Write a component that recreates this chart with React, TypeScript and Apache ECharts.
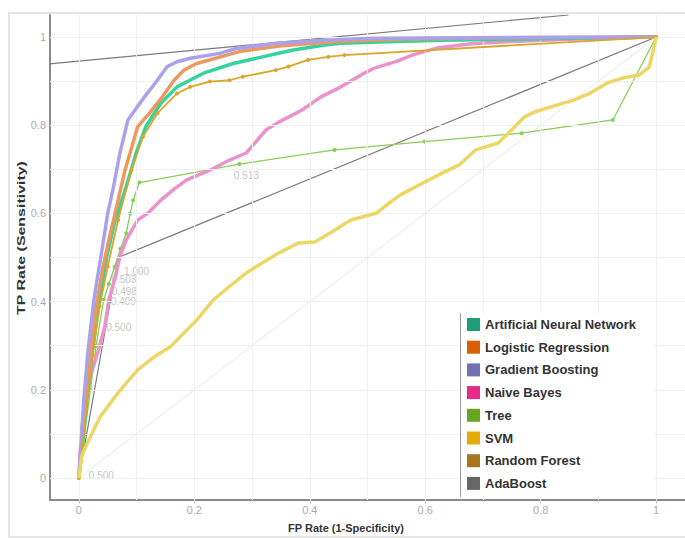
import React, { useEffect, useRef } from 'react';
import * as echarts from 'echarts';

const seriesNames = [
  'Artificial Neural Network',
  'Logistic Regression',
  'Gradient Boosting',
  'Naive Bayes',
  'Tree',
  'SVM',
  'Random Forest',
  'AdaBoost',
];
const legendColors = ['#1b9e77', '#d95f02', '#7570b3', '#e7298a', '#66a61e', '#e6ab02', '#a6761d', '#666666'];
const lineColors = ['#34d39f', '#eb9a5e', '#a9a1ec', '#ea92cc', '#86cf55', '#ecd766', '#d9a52a', '#7a7a7a'];

const tickValues = [0, 0.2, 0.4, 0.6, 0.8, 1];
const gridValues = [0, 0.1, 0.2, 0.3, 0.4, 0.5, 0.6, 0.7, 0.8, 0.9, 1];

const annData = [
  [0, 0], [0.006, 0.07], [0.014, 0.18], [0.024, 0.29], [0.035, 0.4], [0.048, 0.5], [0.062, 0.58],
  [0.072, 0.62], [0.082, 0.661], [0.099, 0.736], [0.116, 0.797], [0.142, 0.85], [0.17, 0.887],
  [0.216, 0.918], [0.267, 0.94], [0.318, 0.955], [0.369, 0.97], [0.426, 0.982], [0.454, 0.986],
  [0.55, 0.99], [0.63, 0.993], [1, 1],
];
const lrData = [
  [0, 0], [0.005, 0.07], [0.012, 0.18], [0.02, 0.28], [0.03, 0.39], [0.042, 0.48], [0.052, 0.54],
  [0.06, 0.585], [0.08, 0.698], [0.102, 0.797], [0.122, 0.827], [0.145, 0.865], [0.165, 0.902],
  [0.182, 0.925], [0.204, 0.94], [0.278, 0.967], [0.35, 0.98], [0.45, 0.99], [0.55, 0.995],
  [0.7, 0.998], [1, 1],
];
const gbData = [
  [0, 0], [0.003, 0.063], [0.0085, 0.177], [0.016, 0.29], [0.026, 0.404], [0.04, 0.517], [0.05, 0.6],
  [0.06, 0.66], [0.071, 0.736], [0.085, 0.812], [0.097, 0.834], [0.114, 0.865], [0.136, 0.902],
  [0.153, 0.933], [0.17, 0.944], [0.193, 0.952], [0.244, 0.963], [0.273, 0.974], [0.341, 0.986],
  [0.426, 0.993], [0.511, 0.997], [0.6, 0.998], [0.75, 0.999], [1, 1],
];
const nbData = [
  [0, 0], [0.002, 0.05], [0.005, 0.11], [0.011, 0.177], [0.022, 0.24], [0.034, 0.29], [0.045, 0.344],
  [0.052, 0.404], [0.064, 0.46], [0.071, 0.502], [0.082, 0.54], [0.102, 0.585], [0.119, 0.6],
  [0.142, 0.63], [0.165, 0.655], [0.187, 0.676], [0.227, 0.698], [0.261, 0.721], [0.29, 0.737],
  [0.324, 0.789], [0.346, 0.807], [0.386, 0.834], [0.42, 0.865], [0.454, 0.887], [0.494, 0.918],
  [0.511, 0.929], [0.55, 0.945], [0.58, 0.96], [0.62, 0.975], [0.68, 0.985], [0.75, 0.99],
  [0.85, 0.995], [1, 1],
];
const treeData = [
  [0, 0], [0.01, 0.1], [0.02, 0.2], [0.03, 0.3], [0.043, 0.404], [0.052, 0.44], [0.062, 0.479],
  [0.072, 0.52], [0.082, 0.555], [0.089, 0.6], [0.094, 0.63], [0.105, 0.67], [0.278, 0.712],
  [0.443, 0.744], [0.599, 0.763], [0.767, 0.782], [0.925, 0.812], [1, 1],
];
const svmData = [
  [0, 0], [0.005, 0.05], [0.017, 0.086], [0.037, 0.139], [0.068, 0.193], [0.082, 0.215],
  [0.102, 0.245], [0.131, 0.275], [0.159, 0.298], [0.204, 0.358], [0.233, 0.404], [0.267, 0.441],
  [0.29, 0.465], [0.307, 0.479], [0.346, 0.51], [0.38, 0.533], [0.409, 0.535], [0.443, 0.562],
  [0.471, 0.585], [0.516, 0.601], [0.533, 0.619], [0.557, 0.642], [0.596, 0.669], [0.63, 0.692],
  [0.659, 0.71], [0.687, 0.744], [0.727, 0.76], [0.75, 0.79], [0.772, 0.819], [0.789, 0.83],
  [0.829, 0.846], [0.857, 0.857], [0.886, 0.873], [0.915, 0.896], [0.942, 0.907], [0.971, 0.914],
  [0.988, 0.932], [0.994, 0.964], [1, 1],
];
const rfData = [
  [0, 0], [0.006, 0.07], [0.014, 0.17], [0.024, 0.28], [0.036, 0.39], [0.05, 0.48], [0.068, 0.585],
  [0.091, 0.698], [0.111, 0.774], [0.136, 0.827], [0.17, 0.872], [0.193, 0.887], [0.227, 0.899],
  [0.261, 0.902], [0.284, 0.91], [0.341, 0.925], [0.363, 0.933], [0.397, 0.948], [0.432, 0.955],
  [0.46, 0.959], [1, 1],
];
const adaData = [[0, 0], [0.068, 0.5], [1, 1]];
const adaIsoLine = [[-0.051, 0.939], [0.848, 1.05]];
const diagonalData = [[0, 0], [1, 1]];

const thresholdPoints = [
  [0.039, 0.005], [0.29, 0.685], [0.1, 0.469], [0.078, 0.449], [0.079, 0.424], [0.077, 0.4], [0.069, 0.342],
];
const thresholdTexts = ['0.500', '0.513', '1.000', '0.503', '0.498', '0.499', '0.500'];

export default function App() {
  const ref = useRef<HTMLDivElement>(null);

  useEffect(() => {
    document.body.style.margin = '0';
    if (!ref.current) return;
    const chart = echarts.init(ref.current, undefined, { renderer: 'svg' });

    const curveData = [annData, lrData, gbData, nbData, treeData, svmData, rfData, adaData];
    const widths = [3.5, 3.5, 3.5, 3.5, 1.3, 3.5, 1.8, 1.2];
    const symbolSizes = [0, 0, 0, 0, 4, 0, 4, 0];
    const zs = [5, 6, 7, 4, 3, 9, 8, 2];

    const curves = seriesNames.map((name, i) => ({
      name,
      type: 'line',
      data: curveData[i],
      z: zs[i],
      showSymbol: symbolSizes[i] > 0,
      symbol: 'circle',
      symbolSize: symbolSizes[i],
      itemStyle: { color: lineColors[i] },
      lineStyle: { color: lineColors[i], width: widths[i] },
      silent: true,
    }));

    const option: any = {
      animation: false,
      textStyle: { fontFamily: 'Liberation Sans, Arial, sans-serif' },
      grid: { left: 50, top: 15, width: 646, height: 485 },
      xAxis: {
        type: 'value',
        min: -0.05,
        max: 1.05,
        axisLine: { onZero: false, lineStyle: { color: '#8a8a8a', width: 2 } },
        axisTick: { show: true, customValues: tickValues, length: 4, lineStyle: { color: '#cfcfcf' } },
        axisLabel: {
          customValues: tickValues,
          color: '#ababab',
          fontSize: 11,
          margin: 4,
          formatter: (v: number) => String(Math.round(v * 10) / 10),
        },
        splitLine: { show: false },
      },
      yAxis: {
        type: 'value',
        min: -0.05,
        max: 1.05,
        axisLine: { show: true, onZero: false, lineStyle: { color: '#8a8a8a', width: 2 } },
        axisTick: { show: false },
        axisLabel: {
          customValues: tickValues,
          color: '#ababab',
          fontSize: 11,
          margin: 4,
          formatter: (v: number) => String(Math.round(v * 10) / 10),
        },
        splitLine: { show: false },
      },
      legend: {
        orient: 'vertical',
        left: 462,
        top: 313,
        z: 20,
        padding: [5, 18, 7, 5],
        backgroundColor: '#ffffff',
        itemWidth: 13,
        itemHeight: 13,
        itemGap: 9.7,
        textStyle: { fontSize: 13, fontWeight: 'bold', color: '#333', fontFamily: 'Liberation Sans, Arial, sans-serif' },
        data: seriesNames.map((n, i) => ({ name: n, icon: 'rect', itemStyle: { color: legendColors[i] } })),
        selectedMode: false,
      },
      graphic: [
        {
          type: 'rect',
          shape: { x: 9, y: 13, width: 700, height: 524 },
          style: { fill: 'none', stroke: '#e4e4e4', lineWidth: 2 },
          silent: true,
        },
        {
          type: 'line',
          shape: { x1: 460.5, y1: 313, x2: 460.5, y2: 497 },
          style: { stroke: '#9a9a9a', lineWidth: 1 },
          silent: true,
          z: 30,
        },
        {
          type: 'text',
          x: 346,
          y: 528,
          style: {
            text: 'FP Rate (1-Specificity)',
            font: 'bold 11px "Liberation Sans", Arial, sans-serif',
            fill: '#333',
            align: 'center',
            verticalAlign: 'middle',
          },
        },
        {
          type: 'text',
          x: 21,
          y: 238,
          rotation: Math.PI / 2,
          scaleX: 1.45,
          style: {
            text: 'TP Rate (Sensitivity)',
            font: 'bold 11px "Liberation Sans", Arial, sans-serif',
            fill: '#333',
            align: 'center',
            verticalAlign: 'middle',
          },
        },
      ],
      series: [
        {
          name: 'diagonal',
          type: 'line',
          data: diagonalData,
          z: 1,
          showSymbol: false,
          silent: true,
          lineStyle: { color: '#e8e8e8', width: 1 },
          markLine: {
            silent: true,
            symbol: 'none',
            label: { show: false },
            lineStyle: { color: '#efefef', width: 1, type: 'solid' },
            data: [
              ...gridValues.map((v) => ({ xAxis: v })),
              ...gridValues.map((v) => ({ yAxis: v })),
            ],
          },
        },
        {
          name: 'thresholds',
          type: 'scatter',
          data: thresholdPoints.map((p, i) => ({ value: p, label: { formatter: thresholdTexts[i] } })),
          symbolSize: 1,
          z: 1,
          silent: true,
          itemStyle: { color: 'rgba(0,0,0,0)' },
          label: { show: true, position: 'inside', color: '#b3b3b3', fontSize: 10 },
        },
        {
          name: 'iso',
          type: 'line',
          data: adaIsoLine,
          z: 2,
          showSymbol: false,
          silent: true,
          lineStyle: { color: '#7a7a7a', width: 1.2 },
        },
        ...curves,
      ],
    };

    chart.setOption(option);
    return () => chart.dispose();
  }, []);

  return <div ref={ref} style={{ width: 685, height: 538 }} />;
}
